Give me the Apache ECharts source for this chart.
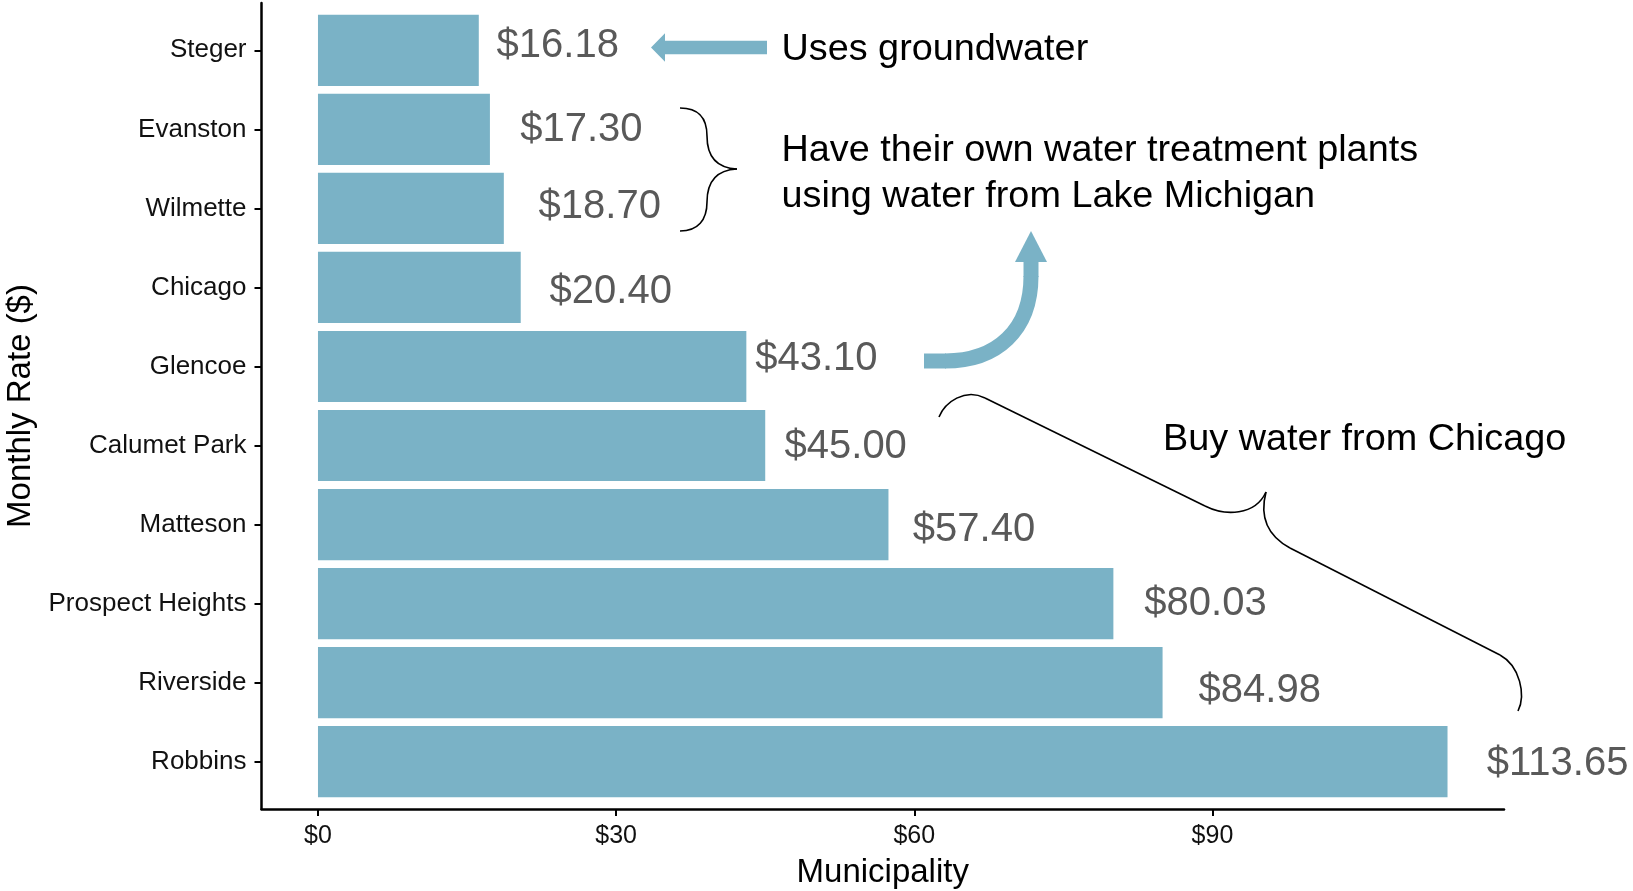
<!DOCTYPE html>
<html><head><meta charset="utf-8">
<script src="https://cdn.jsdelivr.net/npm/echarts@6/dist/echarts.min.js"></script>
<style>html,body{margin:0;padding:0;background:#fff}#c{width:1633px;height:891px}</style>
</head><body><div id="c"></div>
<script>
// ---- data ----
const municipalities = ['Steger','Evanston','Wilmette','Chicago','Glencoe','Calumet Park','Matteson','Prospect Heights','Riverside','Robbins'];
const monthlyRates = [16.18, 17.30, 18.70, 20.40, 43.10, 45.00, 57.40, 80.03, 84.98, 113.65];
const xTickValues = [0, 30, 60, 90];
const noteGroundwater = 'Uses groundwater';
const noteOwnPlants = ['Have their own water treatment plants', 'using water from Lake Michigan'];
const noteBuyChicago = 'Buy water from Chicago';

// ---- styling ----
const FONT = '"Liberation Sans", Arial, Helvetica, sans-serif';
const BAR = '#7AB2C6';
const labelOffsets = [[17.8,-3.9],[30.3,0.8],[34.7,-1.5],[28.8,4.3],[8.9,-7.1],[19.3,1.7],[24.4,5.6],[30.9,0.5],[36,8.2],[39.3,2.5]];

const maxV = Math.max(...monthlyRates);
const xMin = -0.05 * maxV, xMax = maxV * 1.05;

const chart = echarts.init(document.getElementById('c'), null, {renderer: 'canvas'});

const barData = monthlyRates.map((v, i) => ({
  value: v,
  label: {offset: labelOffsets[i]}
}));

function bez(x1,y1,c1x,c1y,c2x,c2y,x2,y2, st){
  return {type:'bezierCurve', shape:{x1,y1,cpx1:c1x,cpy1:c1y,cpx2:c2x,cpy2:c2y,x2,y2}, style:Object.assign({fill:null, stroke:'#000', lineWidth:1.6}, st||{}), silent:true};
}
function ln(x1,y1,x2,y2, st){
  return {type:'line', shape:{x1,y1,x2,y2}, style:Object.assign({stroke:'#000', lineWidth:1.6}, st||{}), silent:true};
}
function txt(t, x, y, size, color){
  return {type:'text', x:0, y:0, style:{text:t, x, y, fontSize:size, fontFamily:FONT, fill:color||'#000', align:'left', verticalAlign:'middle'}, silent:true};
}
const blueThick = {stroke: BAR, lineWidth: 15, lineCap: 'butt'};

const graphics = [
  // straight arrow to Steger
  {type:'polygon', shape:{points:[[651,47.5],[665,33.3],[665,40.7],[767,40.7],[767,54.3],[665,54.3],[665,61.7]]}, style:{fill:BAR}, silent:true},
  txt(noteGroundwater, 781.5, 49.3, 37.8),
  // small brace
  bez(680,108, 698,108, 707,118, 707,136),
  bez(707,136, 707,156, 716,168, 737,169),
  bez(737,169, 716,170, 707,182, 707,202),
  bez(707,202, 707,220, 698,231, 680,231),
  txt(noteOwnPlants[0], 781.5, 151, 37.8),
  txt(noteOwnPlants[1], 781.5, 197, 37.8),
  // curved arrow
  ln(924,361, 946,361, blueThick),
  bez(945,361, 997,361, 1031,330, 1031,276, blueThick),
  ln(1031,277, 1031,261, blueThick),
  {type:'polygon', shape:{points:[[1015,262],[1047,262],[1031,231]]}, style:{fill:BAR}, silent:true},
  // big brace
  bez(939,417, 945,402, 965,388, 985,398),
  ln(985,398, 1205,506),
  bez(1205,506, 1225,516, 1255,516, 1266,492),
  bez(1266,492, 1260,515, 1266,535, 1290,548),
  ln(1290,548, 1500,655),
  bez(1500,655, 1520,666, 1526,695, 1518,711),
  txt(noteBuyChicago, 1163, 439.3, 37.8)
];

const option = {
  backgroundColor: '#fff',
  animation: false,
  grid: [
    {left: 261.5, right: 129, top: 10.8, height: 790.4, containLabel: false, outerBoundsMode: 'none'},
    {left: 261.5, right: 129, top: 3, bottom: 82, containLabel: false, outerBoundsMode: 'none'}
  ],
  xAxis: [
    {
      type: 'value', gridIndex: 0, min: xMin, max: xMax, offset: 7.8,
      axisLine: {show: false, onZero: false},
      axisTick: {show: true, length: 7, lineStyle: {color: '#000', width: 2}, customValues: xTickValues},
      axisLabel: {show: true, customValues: xTickValues, formatter: v => '$' + v, fontSize: 25, fontFamily: FONT, color: '#111', margin: 15},
      splitLine: {show: false},
      name: 'Municipality', nameLocation: 'middle', nameGap: 47,
      nameTextStyle: {fontSize: 33, fontFamily: FONT, color: '#000'}
    },
    {
      type: 'value', gridIndex: 1, min: 0, max: 1,
      axisLine: {show: true, onZero: false, lineStyle: {color: '#000', width: 2.5}},
      axisTick: {show: false}, axisLabel: {show: false}, splitLine: {show: false}
    }
  ],
  yAxis: [
    {
      type: 'category', gridIndex: 0, data: municipalities, inverse: true,
      axisLine: {show: false, onZero: false},
      axisTick: {show: true, alignWithLabel: true, length: 7, lineStyle: {color: '#000', width: 2}},
      axisLabel: {fontSize: 26, fontFamily: FONT, color: '#111', margin: 15, padding: [3, 0, 0, 0]},
      name: 'Monthly Rate ($)', nameLocation: 'middle', nameGap: 223, nameRotate: 90,
      nameTextStyle: {fontSize: 33, fontFamily: FONT, color: '#000'}
    },
    {
      type: 'value', gridIndex: 1, min: 0, max: 1,
      axisLine: {show: true, onZero: false, lineStyle: {color: '#000', width: 2.5}},
      axisTick: {show: false}, axisLabel: {show: false}, splitLine: {show: false}
    }
  ],
  series: [{
    type: 'bar', xAxisIndex: 0, yAxisIndex: 0,
    data: barData, barWidth: '90%',
    itemStyle: {color: BAR},
    label: {
      show: true, position: 'right', distance: 0,
      formatter: p => '$' + p.value.toFixed(2),
      fontSize: 40, fontFamily: FONT, color: '#595959'
    },
    silent: true
  }],
  graphic: graphics
};
chart.setOption(option);
</script>
</body></html>
